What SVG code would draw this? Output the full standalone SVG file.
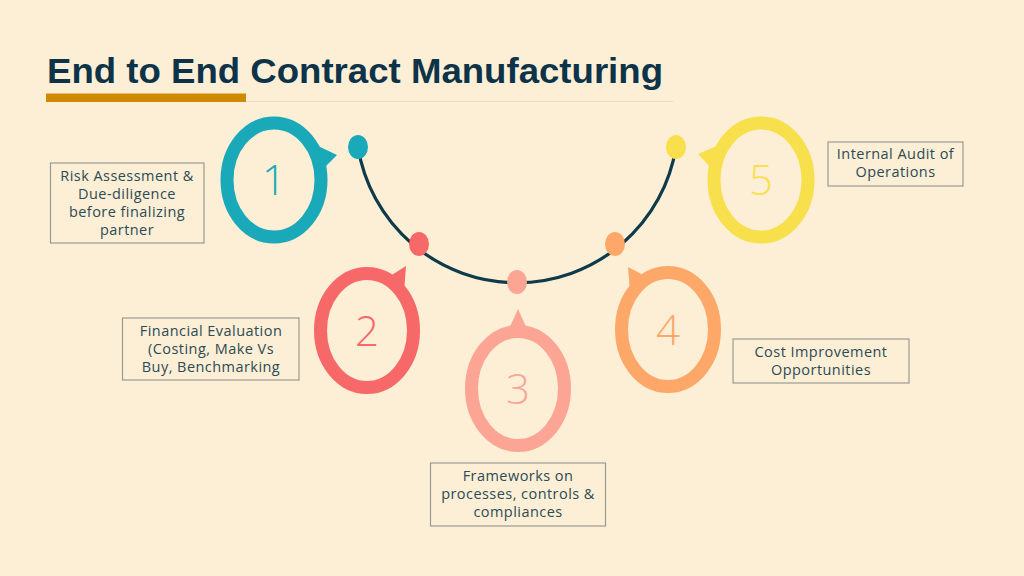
<svg xmlns="http://www.w3.org/2000/svg" width="1024" height="576" viewBox="0 0 1024 576">
<style>
.ring{fill:none;stroke-width:13}
.num{font-family:"Open Sans","Noto Sans",sans-serif;font-weight:300;font-size:42px;text-anchor:middle}
.lbl{font-family:"Open Sans","Noto Sans",sans-serif;font-size:14.5px;letter-spacing:0.45px;fill:#2d4a55;text-anchor:middle}
.box{fill:none;stroke:#9a9a92;stroke-width:1.2}
</style>
<rect width="1024" height="576" fill="#fcefd6"/>
<g id="title">
<text x="47" y="83" font-family="Liberation Sans, Arial, sans-serif" font-weight="bold" font-size="35" fill="#0d3349" textLength="616" lengthAdjust="spacingAndGlyphs">End to End Contract Manufacturing</text>
<rect x="46" y="93.5" width="200" height="8.5" fill="#d08a00"/>
<line x1="246" y1="101.5" x2="673" y2="101.5" stroke="#e6ddcc" stroke-width="1"/>
</g>
<g id="connectors">
<path d="M358,147 A161,161 0 0 0 676,147" fill="none" stroke="#0e3a4a" stroke-width="3.2"/>
</g>
<g id="dots">
<ellipse cx="358" cy="147" rx="10" ry="12" fill="#19a9b8"/>
<ellipse cx="419" cy="244" rx="10" ry="12" fill="#f76868"/>
<ellipse cx="517" cy="282" rx="10" ry="12" fill="#fca595"/>
<ellipse cx="615" cy="244" rx="10" ry="12" fill="#fda868"/>
<ellipse cx="676" cy="147" rx="10" ry="12" fill="#f8df4c"/>
</g>
<g id="node1">
<ellipse class="ring" cx="274" cy="180" rx="47" ry="57" stroke="#19a9b8"/>
<polygon points="337,155 316,145 322,170" fill="#19a9b8"/>
<text class="num" x="274" y="195" fill="#19a9b8">1</text>
<rect class="box" x="50.5" y="163" width="153.5" height="80" stroke="#4f7479"/>
<text class="lbl" x="127" y="181">Risk Assessment &amp;</text>
<text class="lbl" x="127" y="199">Due-diligence</text>
<text class="lbl" x="127" y="217">before finalizing</text>
<text class="lbl" x="127" y="235">partner</text>
</g>
<g id="node2">
<ellipse class="ring" cx="367" cy="330.5" rx="46.5" ry="57" stroke="#f76868"/>
<polygon points="406,266 387,278 404,292" fill="#f76868"/>
<text class="num" x="367" y="345.5" fill="#f76868">2</text>
<rect class="box" x="122.5" y="318" width="176.5" height="62"/>
<text class="lbl" x="211" y="336">Financial Evaluation</text>
<text class="lbl" x="211" y="354">(Costing, Make Vs</text>
<text class="lbl" x="211" y="372">Buy, Benchmarking</text>
</g>
<g id="node3">
<ellipse class="ring" cx="518" cy="388.5" rx="46.5" ry="57" stroke="#fca595"/>
<polygon points="518,309 508,331 528,331" fill="#fca595"/>
<text class="num" x="518" y="403.5" fill="#fca595">3</text>
<rect class="box" x="430.5" y="463" width="175" height="63"/>
<text class="lbl" x="518" y="481">Frameworks on</text>
<text class="lbl" x="518" y="499">processes, controls &amp;</text>
<text class="lbl" x="518" y="517">compliances</text>
</g>
<g id="node4">
<ellipse class="ring" cx="668" cy="329.5" rx="46.5" ry="57" stroke="#fda868"/>
<polygon points="628,267 647,277 630,292" fill="#fda868"/>
<text class="num" x="668" y="344.5" fill="#fda868">4</text>
<rect class="box" x="733" y="339" width="176" height="44"/>
<text class="lbl" x="821" y="357">Cost Improvement</text>
<text class="lbl" x="821" y="375">Opportunities</text>
</g>
<g id="node5">
<ellipse class="ring" cx="761" cy="180" rx="47" ry="57" stroke="#f8df4c"/>
<polygon points="698,154 719,145 713,170" fill="#f8df4c"/>
<text class="num" x="761" y="195" fill="#f8df4c">5</text>
<rect class="box" x="828" y="142" width="135" height="44"/>
<text class="lbl" x="895.5" y="159">Internal Audit of</text>
<text class="lbl" x="895.5" y="177">Operations</text>
</g>
</svg>
